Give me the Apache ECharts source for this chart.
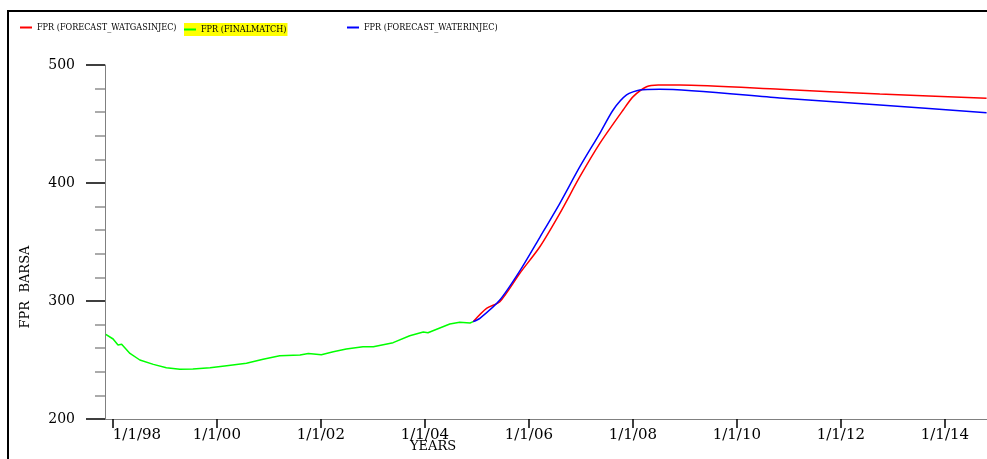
<!DOCTYPE html>
<html>
<head>
<meta charset="utf-8">
<script src="https://cdn.jsdelivr.net/npm/echarts@6/dist/echarts.min.js"></script>
<style>
html,body{margin:0;padding:0;background:#fff;}
#chart{width:987px;height:459px;}
</style>
</head>
<body>
<div id="chart"></div>
<script>
// ---- data (decimal years, FPR in BARSA) ----
var histYears = [1997.865, 1998.006, 1998.10, 1998.17, 1998.33, 1998.52, 1998.78, 1999.03, 1999.29, 1999.54,
  1999.87, 2000.19, 2000.57, 2000.89, 2001.21, 2001.60, 2001.76, 2002.01, 2002.24, 2002.49,
  2002.81, 2003.01, 2003.39, 2003.71, 2003.97, 2004.06, 2004.48, 2004.67, 2004.87, 2004.93];
var histValues = [271.8, 267.8, 262.7, 263.3, 255.6, 250.0, 246.3, 243.5, 242.1, 242.4,
  243.5, 245.2, 247.2, 250.6, 253.6, 254.2, 255.6, 254.5, 257.0, 259.3,
  261.3, 261.3, 264.7, 270.6, 273.7, 273.1, 280.5, 281.9, 281.4, 282.5];

var gasYears = [2004.929, 2005.187, 2005.442, 2005.827, 2006.212, 2006.596, 2006.981, 2007.365,
  2007.813, 2008.006, 2008.263, 2008.487, 2008.904, 2010.827, 2012.750, 2014.802];
var gasValues = [282.5, 293.8, 299.4, 323.5, 346.0, 374.3, 405.3, 433.6,
  461.9, 473.2, 481.6, 483.0, 483.0, 479.4, 475.4, 471.8];

var waterYears = [2004.929, 2005.058, 2005.442, 2005.827, 2006.212, 2006.596, 2006.981, 2007.365,
  2007.621, 2007.879, 2008.135, 2008.519, 2010.827, 2012.750, 2014.802];
var waterValues = [282.5, 285.3, 300.8, 325.5, 354.0, 382.8, 413.8, 442.1,
  461.9, 474.6, 478.8, 479.4, 472.1, 466.1, 459.6];

var xTickYears = [1998, 2000, 2002, 2004, 2006, 2008, 2010, 2012, 2014];
var xTickLabels = ['1/1/98', '1/1/00', '1/1/02', '1/1/04', '1/1/06', '1/1/08', '1/1/10', '1/1/12', '1/1/14'];
var yTickValues = [200, 300, 400, 500];

var seriesNames = ['FPR (FORECAST_WATGASINJEC)', 'FPR (FINALMATCH)', 'FPR (FORECAST_WATERINJEC)'];

function zip(a, b) { return a.map(function (v, i) { return [v, b[i]]; }); }

var serif = "'DejaVu Serif', 'Liberation Serif', serif";
var legendFont = "'DejaVu Serif Condensed', 'Liberation Serif', serif";

var chart = echarts.init(document.getElementById('chart'), null, {renderer: 'canvas'});
var legendCommon = {
  top: 23, padding: 0, itemWidth: 12, itemHeight: 2, icon: 'rect',
  textStyle: {fontFamily: legendFont, fontSize: 9, color: '#000'},
  selectedMode: false
};
chart.setOption({
  animation: false,
  backgroundColor: '#fff',
  grid: {left: 105, right: 0, top: 65, bottom: 40, containLabel: false},
  legend: [
    Object.assign({}, legendCommon, {left: 20, data: [seriesNames[0]]}),
    Object.assign({}, legendCommon, {left: 184, data: [seriesNames[1]], backgroundColor: '#ffff00', padding: [2, 1, 2, 0]}),
    Object.assign({}, legendCommon, {left: 347, data: [seriesNames[2]]})
  ],
  xAxis: {
    type: 'value',
    min: 1997.85, max: 2014.81,
    axisLine: {show: true, lineStyle: {color: '#808080', width: 1}},
    axisTick: {show: true, customValues: xTickYears, length: 9, lineStyle: {color: '#000', width: 1.5}},
    axisLabel: {
      customValues: xTickYears,
      margin: 9,
      alignMinLabel: 'left',
      fontFamily: serif, fontSize: 15, color: '#000',
      formatter: function (v) { return xTickLabels[xTickYears.indexOf(Math.round(v))] || ''; }
    },
    splitLine: {show: false}
  },
  yAxis: {
    type: 'value',
    min: 200, max: 500, interval: 100,
    axisLine: {show: true, lineStyle: {color: '#808080', width: 1}},
    axisTick: {show: true, length: 19, lineStyle: {color: '#000', width: 1.5}},
    minorTick: {show: true, splitNumber: 5, length: 10, lineStyle: {color: '#909090', width: 1.5}},
    axisLabel: {margin: 30, fontFamily: serif, fontSize: 14, color: '#000',
      formatter: function (v) { return yTickValues.indexOf(v) >= 0 ? String(v) : ''; }},
    splitLine: {show: false}
  },
  graphic: [
    {type: 'rect', shape: {x: 8, y: 11, width: 1200, height: 600}, style: {fill: 'none', stroke: '#000', lineWidth: 2}, silent: true, z: -1},
    {type: 'text', x: 433, y: 447, style: {text: 'YEARS', fontFamily: serif, fontSize: 13, fill: '#000', align: 'center', verticalAlign: 'middle'}},
    {type: 'text', x: 26, y: 287, rotation: Math.PI / 2, style: {text: 'FPR  BARSA', fontFamily: serif, fontSize: 13, fill: '#000', align: 'center', verticalAlign: 'middle'}}
  ],
  series: [
    {name: seriesNames[0], type: 'line', data: zip(gasYears, gasValues), showSymbol: false, smooth: 0.25,
      lineStyle: {color: '#ff0000', width: 1.5}, itemStyle: {color: '#ff0000'}, z: 2},
    {name: seriesNames[1], type: 'line', data: zip(histYears, histValues), showSymbol: false,
      lineStyle: {color: '#00ff00', width: 1.5}, itemStyle: {color: '#00ff00'}, z: 3},
    {name: seriesNames[2], type: 'line', data: zip(waterYears, waterValues), showSymbol: false, smooth: 0.25,
      lineStyle: {color: '#0000ff', width: 1.5}, itemStyle: {color: '#0000ff'}, z: 4}
  ]
});
</script>
</body>
</html>
